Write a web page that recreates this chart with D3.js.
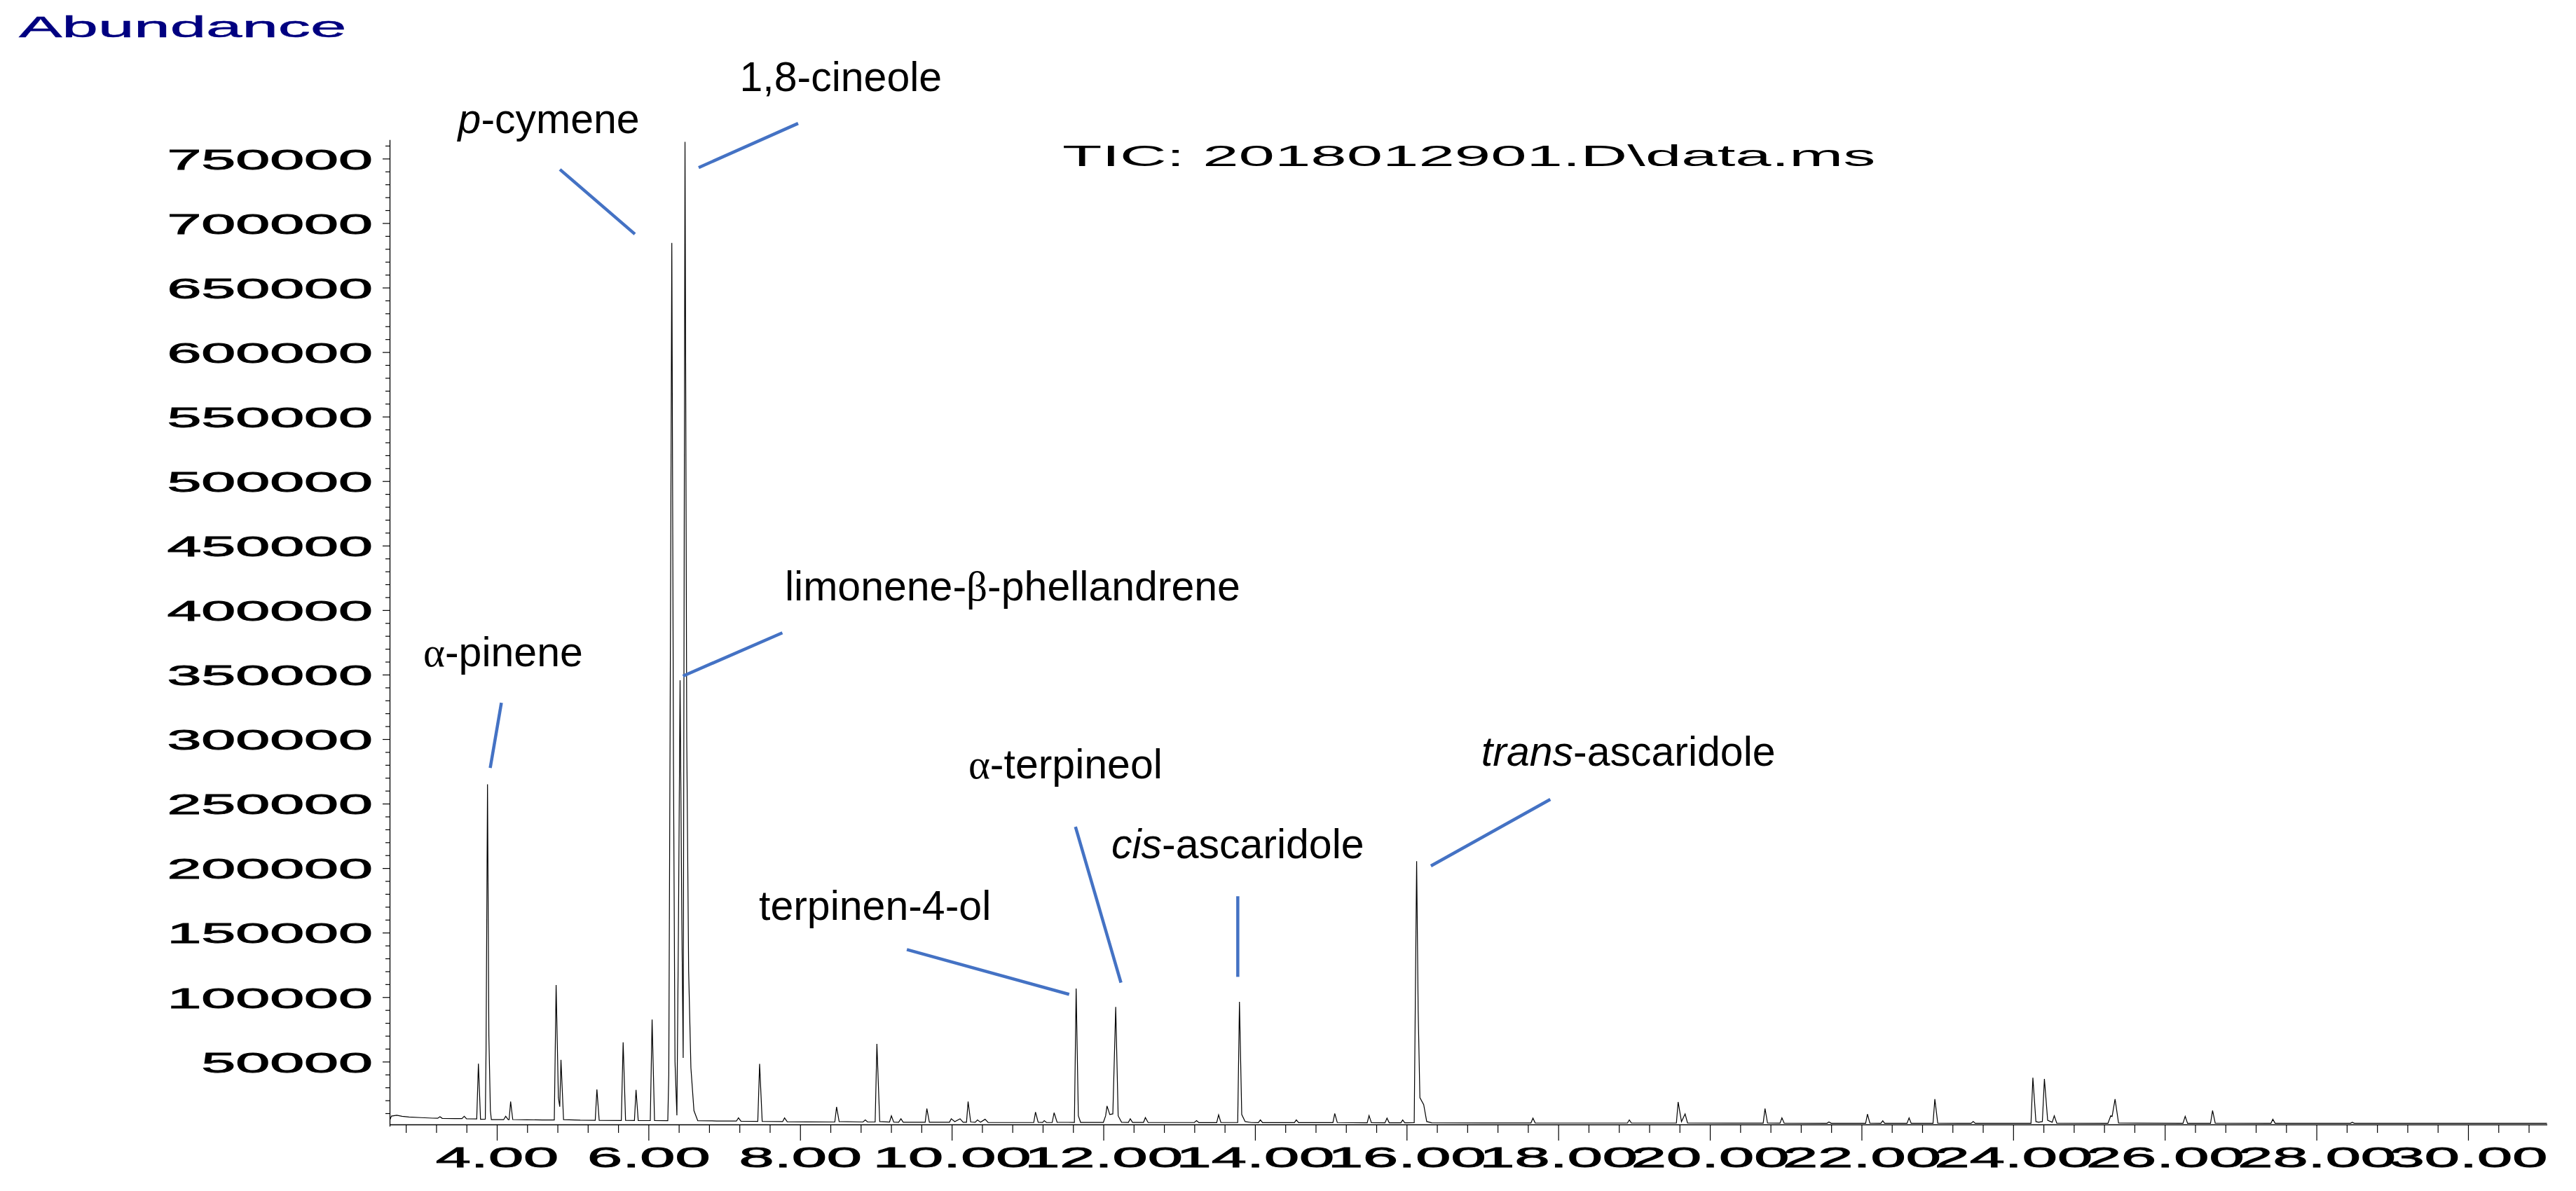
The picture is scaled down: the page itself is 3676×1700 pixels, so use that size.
<!DOCTYPE html>
<html>
<head>
<meta charset="utf-8">
<script src="https://cdn.jsdelivr.net/npm/d3@7"></script>
<style>
  body { margin: 0; background: #ffffff; }
  svg { display: block; }
</style>
</head>
<body>
<svg id="chart" width="3676" height="1700"></svg>
<script>
// ---------------- DATA ----------------
// Total ion chromatogram trace: [retention time (min), abundance]
const ticTrace = [
  [2.59, 4900], [2.61, 7800], [2.68, 8400], [2.75, 7600], [2.84, 7100], [3.00, 6600], [3.15, 6200],
  [3.22, 6100], [3.25, 7300], [3.28, 6000], [3.45, 5800], [3.54, 5800], [3.57, 7600], [3.60, 5700],
  [3.735, 5600], [3.757, 48400], [3.785, 5300],
  [3.848, 5400], [3.858, 60000], [3.877, 265000], [3.895, 70000], [3.915, 12000], [3.928, 5000],
  [4.09, 5000], [4.117, 7600], [4.15, 5000], [4.162, 5000], [4.182, 19000], [4.210, 5100],
  [4.40, 4900], [4.60, 4800], [4.758, 4800], [4.782, 109400], [4.812, 22000], [4.830, 15000],
  [4.846, 51400], [4.880, 5000], [5.10, 4600],
  [5.298, 4500], [5.320, 28500], [5.350, 4500],
  [5.642, 4400], [5.666, 65000], [5.698, 4500],
  [5.815, 4400], [5.836, 28100], [5.865, 4400],
  [6.024, 4300], [6.048, 82600], [6.080, 4300],
  [6.255, 4200], [6.268, 40000], [6.285, 300000], [6.308, 684600], [6.330, 280000], [6.350, 50000],
  [6.375, 8400], [6.395, 150000], [6.417, 345600], [6.440, 160000], [6.458, 52900],
  [6.482, 763000], [6.505, 300000], [6.530, 120000], [6.560, 45000], [6.600, 12000], [6.650, 4200],
  [6.90, 4000], [7.16, 3900], [7.187, 6400], [7.22, 3800],
  [7.442, 3700], [7.466, 48300], [7.500, 3700],
  [7.77, 3500], [7.795, 6400], [7.83, 3400], [8.10, 3300],
  [8.458, 3200], [8.481, 14900], [8.515, 3500],
  [8.83, 3200], [8.86, 4800], [8.89, 3200],
  [8.990, 3200], [9.013, 63800], [9.050, 3500],
  [9.18, 3200], [9.204, 8000], [9.235, 3100], [9.30, 3000], [9.33, 5700], [9.36, 3000],
  [9.650, 3000], [9.672, 13600], [9.705, 3000],
  [9.97, 3000], [9.994, 5700], [10.04, 3500], [10.11, 5700], [10.15, 3000],
  [10.195, 3000], [10.216, 19000], [10.250, 3200],
  [10.31, 3000], [10.34, 4800], [10.38, 3000], [10.44, 5300], [10.48, 2900], [10.90, 2800],
  [11.082, 2800], [11.105, 10900], [11.140, 3000], [11.20, 2900], [11.22, 4300], [11.25, 2800],
  [11.325, 2800], [11.350, 10400], [11.390, 3000],
  [11.618, 2900], [11.641, 106700], [11.670, 8000], [11.700, 2900],
  [12.00, 2900], [12.030, 8000], [12.048, 15600], [12.085, 9000], [12.125, 9500],
  [12.163, 92400], [12.195, 8000], [12.240, 3000],
  [12.330, 2900], [12.355, 5700], [12.385, 2900], [12.53, 2900], [12.554, 6600], [12.59, 2800],
  [13.20, 2800], [13.229, 4300], [13.26, 2700],
  [13.495, 2700], [13.520, 8700], [13.550, 2800],
  [13.772, 2800], [13.795, 96300], [13.825, 9000], [13.870, 3500], [13.95, 2800],
  [14.045, 2700], [14.071, 4800], [14.10, 2700], [14.52, 2700], [14.545, 4800], [14.575, 2700],
  [15.028, 2700], [15.052, 9800], [15.085, 2800],
  [15.480, 2600], [15.504, 8200], [15.535, 2700],
  [15.715, 2600], [15.741, 6200], [15.770, 2600], [15.925, 2600], [15.948, 4800], [15.975, 2600],
  [16.100, 2700], [16.115, 100000], [16.132, 205400], [16.152, 90000], [16.175, 22000],
  [16.225, 16700], [16.265, 3500], [16.33, 2600],
  [17.00, 2500], [17.640, 2500], [17.666, 6200], [17.695, 2500],
  [18.50, 2400], [18.912, 2400], [18.937, 4800], [18.965, 2400],
  [19.558, 2400], [19.581, 18700], [19.625, 3500], [19.673, 9400], [19.705, 2400],
  [20.30, 2300], [20.703, 2300], [20.727, 13600], [20.760, 2400],
  [20.925, 2300], [20.950, 6400], [20.980, 2300],
  [21.545, 2200], [21.570, 3200], [21.600, 2200],
  [22.054, 2200], [22.078, 9300], [22.110, 2300],
  [22.255, 2200], [22.280, 4100], [22.305, 2200],
  [22.600, 2200], [22.627, 6400], [22.655, 2200],
  [22.943, 2200], [22.967, 20900], [23.005, 2300],
  [23.445, 2200], [23.473, 3600], [23.500, 2200],
  [24.235, 2200], [24.260, 37500], [24.300, 3500], [24.335, 3000], [24.385, 3500], [24.412, 36600],
  [24.455, 4500], [24.515, 3000], [24.542, 8000], [24.575, 2300],
  [25.250, 2200], [25.287, 8000], [25.305, 7500], [25.344, 20900], [25.390, 2400],
  [26.240, 2200], [26.269, 7600], [26.300, 2200],
  [26.603, 2200], [26.630, 12100], [26.665, 2300],
  [27.400, 2200], [27.425, 5300], [27.455, 2200],
  [28.450, 2200], [28.472, 3000], [28.500, 2200], [31.04, 2200]
];

// Axis ticks and labels
const xMajorTicks = [4, 6, 8, 10, 12, 14, 16, 18, 20, 22, 24, 26, 28, 30];
const xTickLabels = ["4.00", "6.00", "8.00", "10.00", "12.00", "14.00", "16.00",
                     "18.00", "20.00", "22.00", "24.00", "26.00", "28.00", "30.00"];
const yMajorTicks = [50000, 100000, 150000, 200000, 250000, 300000, 350000, 400000,
                     450000, 500000, 550000, 600000, 650000, 700000, 750000];
const yTickLabels = ["50000", "100000", "150000", "200000", "250000", "300000", "350000", "400000",
                     "450000", "500000", "550000", "600000", "650000", "700000", "750000"];

// Compound annotations: text pieces (style: "" normal, "i" italic, "g" greek symbol)
const compoundText = [
  [["α", "g"], ["-pinene", ""]],
  [["p", "i"], ["-cymene", ""]],
  [["1,8-cineole", ""]],
  [["limonene-", ""], ["β", "g"], ["-phellandrene", ""]],
  [["terpinen-4-ol", ""]],
  [["α", "g"], ["-terpineol", ""]],
  [["cis", "i"], ["-ascaridole", ""]],
  [["trans", "i"], ["-ascaridole", ""]]
];
// Label anchor (retention time, abundance)
const labelTime      = [3.030, 3.488, 7.203, 7.799, 7.457, 10.220, 12.105, 16.985];
const labelAbundance = [356600, 769800, 802300, 407500, 159900, 269600, 207700, 279400];
// Leader lines: from (text side) to (peak side)
const leaderFromTime      = [4.060, 4.832, 7.974, 7.766, 9.408, 11.632, 13.773, 17.895];
const leaderFromAbundance = [328100, 741600, 777300, 382400, 136900, 232100, 178200, 253300];
const leaderToTime        = [3.913, 5.821, 6.662, 6.455, 11.549, 12.232, 13.773, 16.320];
const leaderToAbundance   = [277700, 691500, 743000, 348900, 102200, 111200, 115700, 201700];

const yAxisTitle = "Abundance";
const traceTitle = "TIC: 2018012901.D\\data.ms";

// ---------------- DRAWING ----------------
const svg = d3.select("#chart");
svg.append("rect").attr("width", 3676).attr("height", 1700).attr("fill", "#ffffff");

const x = d3.scaleLinear().domain([2.586, 31.04]).range([556, 3634.5]);
const y = d3.scaleLinear().domain([0, 764700]).range([1607.4, 199.3]);

const STRETCH = 2.2;   // ChemStation text is drawn horizontally stretched
const axisFont = "'Liberation Sans', Arial, sans-serif";

// Y axis (major)
const yAxisG = svg.append("g").attr("transform", `translate(${x.range()[0]},0)`)
  .call(d3.axisLeft(y).tickValues(yMajorTicks).tickSize(10).tickSizeOuter(0)
        .tickFormat((d, i) => yTickLabels[i]));
yAxisG.select(".domain").attr("stroke", "#000").attr("stroke-width", 1.3);
yAxisG.selectAll(".tick line").attr("stroke", "#000").attr("stroke-width", 1.2);
yAxisG.selectAll(".tick text")
  .attr("x", -24 / STRETCH).attr("dy", "0.37em")
  .attr("transform", `scale(${STRETCH},1)`)
  .attr("font-family", axisFont).attr("font-size", 40).attr("fill", "#000")
  .attr("stroke", "#000").attr("stroke-width", 0.9);
// Y axis (minor every 10000)
const yMinor = d3.range(10000, 764700, 10000).filter(v => v % 50000 !== 0);
svg.append("g").attr("transform", `translate(${x.range()[0]},0)`)
  .call(d3.axisLeft(y).tickValues(yMinor).tickSize(6).tickSizeOuter(0).tickFormat(""))
  .call(g => g.select(".domain").remove())
  .selectAll(".tick line").attr("stroke", "#000").attr("stroke-width", 1.2);

// X axis (major)
const axisY = y(1300);
const xAxisG = svg.append("g").attr("transform", `translate(0,${axisY})`)
  .call(d3.axisBottom(x).tickValues(xMajorTicks).tickSize(23).tickSizeOuter(0)
        .tickFormat((d, i) => xTickLabels[i]));
xAxisG.select(".domain").attr("stroke", "#000").attr("stroke-width", 1.3);
xAxisG.selectAll(".tick line").attr("stroke", "#000").attr("stroke-width", 1.2);
xAxisG.selectAll(".tick text")
  .attr("y", 61).attr("dy", null)
  .attr("transform", `scale(${STRETCH},1)`)
  .attr("font-family", axisFont).attr("font-size", 41).attr("fill", "#000")
  .attr("stroke", "#000").attr("stroke-width", 0.9);
// X axis (minor every 0.4 min)
const xMinor = d3.range(2.8, 31.0, 0.4).filter(t => Math.abs(t / 2 - Math.round(t / 2)) > 0.01);
svg.append("g").attr("transform", `translate(0,${axisY})`)
  .call(d3.axisBottom(x).tickValues(xMinor).tickSize(12).tickSizeOuter(0).tickFormat(""))
  .call(g => g.select(".domain").remove())
  .selectAll(".tick line").attr("stroke", "#000").attr("stroke-width", 1.2);

// Chromatogram trace
const line = d3.line().x(d => x(d[0])).y(d => y(d[1]));
svg.append("path").datum(ticTrace)
  .attr("d", line).attr("fill", "none")
  .attr("stroke", "#000").attr("stroke-width", 1.2).attr("stroke-linejoin", "miter");

// Titles (ChemStation style)
svg.append("text")
  .attr("transform", `translate(27,53) scale(${STRETCH},1)`)
  .attr("font-family", axisFont).attr("font-size", 42).attr("fill", "#000080")
  .attr("stroke", "#000080").attr("stroke-width", 0.5)
  .text(yAxisTitle);
svg.append("text")
  .attr("transform", `translate(1516,237) scale(${STRETCH},1)`)
  .attr("font-family", axisFont).attr("font-size", 42).attr("fill", "#000")
  .text(traceTitle);

// Leader lines
const leaders = compoundText.map((_, i) => ({
  x1: x(leaderFromTime[i]), y1: y(leaderFromAbundance[i]),
  x2: x(leaderToTime[i]),   y2: y(leaderToAbundance[i])
}));
svg.append("g").selectAll("line").data(leaders).join("line")
  .attr("x1", d => d.x1).attr("y1", d => d.y1)
  .attr("x2", d => d.x2).attr("y2", d => d.y2)
  .attr("stroke", "#4472C4").attr("stroke-width", 4.5);

// Compound labels
const labelG = svg.append("g")
  .attr("font-family", axisFont).attr("font-size", 59).attr("fill", "#000");
compoundText.forEach((parts, i) => {
  const t = labelG.append("text")
    .attr("x", x(labelTime[i])).attr("y", y(labelAbundance[i]));
  parts.forEach(([s, style]) => {
    const ts = t.append("tspan").text(s);
    if (style === "i") ts.attr("font-style", "italic");
    if (style === "g") ts.attr("font-family", "'Liberation Serif', 'Times New Roman', serif");
  });
});
</script>
</body>
</html>
